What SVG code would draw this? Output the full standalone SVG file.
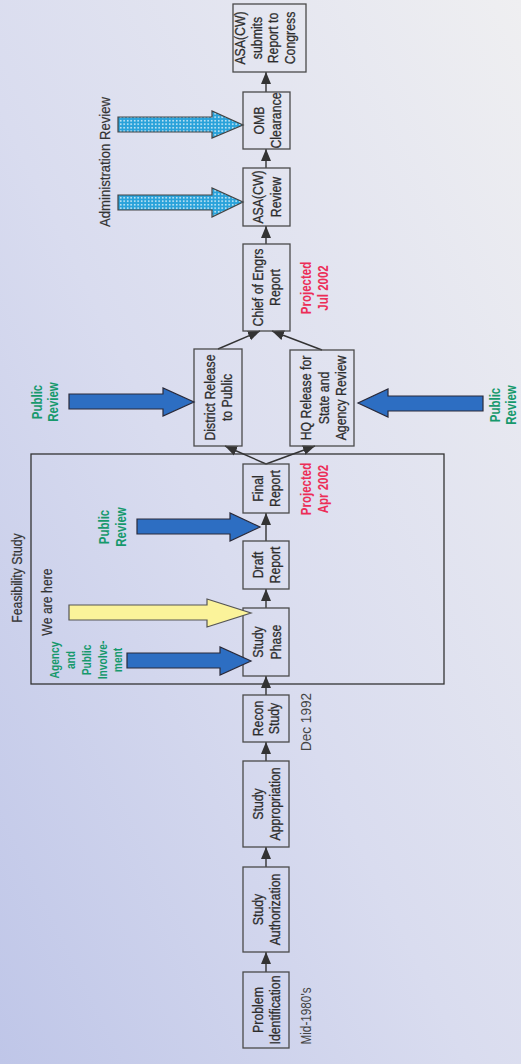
<svg xmlns="http://www.w3.org/2000/svg" width="521" height="1064" viewBox="0 0 521 1064">
<defs>
<linearGradient id="bg" x1="0" y1="1" x2="1" y2="0">
<stop offset="0" stop-color="#bfc6e8"/>
<stop offset="0.45" stop-color="#d9dcef"/>
<stop offset="1" stop-color="#efeff1"/>
</linearGradient>
<pattern id="dots" width="3.5" height="3.5" patternUnits="userSpaceOnUse">
<rect width="3.5" height="3.5" fill="#29a2da"/>
<rect x="1" y="1" width="1.4" height="1.4" fill="#ffffff"/>
</pattern>
<marker id="ah" markerUnits="userSpaceOnUse" markerWidth="12" markerHeight="12" viewBox="0 0 12 12" refX="12" refY="6" orient="auto">
<path d="M0,1 L12,6 L0,11 Z" fill="#333"/>
</marker>
<style>
.box{fill:none;stroke:#4a4a4a;stroke-width:1.3}
.bt{font-family:"Liberation Sans",Arial,sans-serif;font-size:15px;fill:#2d2d2d;stroke:#2d2d2d;stroke-width:0.3;text-anchor:middle}
.gr{font-family:"Liberation Sans",Arial,sans-serif;font-size:14px;font-weight:bold;fill:#16996c;text-anchor:middle}
.rd{font-family:"Liberation Sans",Arial,sans-serif;font-size:14px;font-weight:bold;fill:#ec2d57;text-anchor:middle}
.lb{font-family:"Liberation Sans",Arial,sans-serif;font-size:15px;fill:#333;stroke:#333;stroke-width:0.2;text-anchor:middle}
.dt{font-family:"Liberation Sans",Arial,sans-serif;font-size:14px;fill:#444;text-anchor:middle}
.con{stroke:#333;stroke-width:1.4;fill:none;marker-end:url(#ah)}
.blue{fill:#2d6ec2;stroke:#2a2a3a;stroke-width:1.2}
.yel{fill:#fbf39a;stroke:#555;stroke-width:1.2}
.cyan{fill:url(#dots);stroke:#444;stroke-width:1.2}
</style>
</defs>
<rect width="521" height="1064" fill="url(#bg)"/>

<g id="feasibility-study">
<rect x="31" y="454" width="413" height="230" fill="none" stroke="#333" stroke-width="1.3"/>
<text class="lb" transform="translate(0,578) rotate(-90) scale(0.82,1)"><tspan x="0" y="22.4">Feasibility Study</tspan></text>
</g>

<g id="connectors">
<line class="con" x1="266" y1="972" x2="266" y2="952"/>
<line class="con" x1="266" y1="867" x2="266" y2="847"/>
<line class="con" x1="266" y1="761" x2="266" y2="742"/>
<line class="con" x1="266" y1="695" x2="266" y2="676"/>
<line class="con" x1="266" y1="608" x2="266" y2="589"/>
<line class="con" x1="266" y1="541" x2="266" y2="513"/>
<line class="con" x1="266" y1="464" x2="225" y2="446"/>
<line class="con" x1="266" y1="464" x2="315" y2="446"/>
<line class="con" x1="218" y1="349" x2="260" y2="331"/>
<line class="con" x1="322" y1="350" x2="272" y2="331"/>
<line class="con" x1="266" y1="244" x2="266" y2="226"/>
<line class="con" x1="266" y1="168" x2="266" y2="149"/>
<line class="con" x1="266" y1="92" x2="266" y2="72"/>
</g>

<g id="problem-identification">
<rect class="box" x="243" y="972" width="46" height="76"/>
<text class="bt" transform="translate(0,1010) rotate(-90) scale(0.82,1)"><tspan x="0" y="263.4">Problem</tspan><tspan x="0" y="280.4">Identification</tspan></text>
</g>
<g id="study-authorization">
<rect class="box" x="243" y="867" width="46" height="85"/>
<text class="bt" transform="translate(0,909.5) rotate(-90) scale(0.82,1)"><tspan x="0" y="263.4">Study</tspan><tspan x="0" y="280.4">Authorization</tspan></text>
</g>
<g id="study-appropriation">
<rect class="box" x="243" y="761" width="46" height="86"/>
<text class="bt" transform="translate(0,804) rotate(-90) scale(0.82,1)"><tspan x="0" y="263.4">Study</tspan><tspan x="0" y="280.4">Appropriation</tspan></text>
</g>
<g id="recon-study">
<rect class="box" x="243" y="695" width="46" height="47"/>
<text class="bt" transform="translate(0,718.5) rotate(-90) scale(0.82,1)"><tspan x="0" y="263">Recon</tspan><tspan x="0" y="279.5">Study</tspan></text>
</g>
<g id="study-phase">
<rect class="box" x="243" y="608" width="46" height="68"/>
<text class="bt" transform="translate(0,642) rotate(-90) scale(0.82,1)"><tspan x="0" y="263.4">Study</tspan><tspan x="0" y="281">Phase</tspan></text>
</g>
<g id="draft-report">
<rect class="box" x="243" y="541" width="46" height="48"/>
<text class="bt" transform="translate(0,565) rotate(-90) scale(0.82,1)"><tspan x="0" y="263.4">Draft</tspan><tspan x="0" y="280.4">Report</tspan></text>
</g>
<g id="final-report">
<rect class="box" x="243" y="464" width="46" height="49"/>
<text class="bt" transform="translate(0,488.5) rotate(-90) scale(0.82,1)"><tspan x="0" y="263.4">Final</tspan><tspan x="0" y="280.4">Report</tspan></text>
</g>
<g id="district-release">
<rect class="box" x="194" y="349" width="48" height="97"/>
<text class="bt" transform="translate(0,397.5) rotate(-90) scale(0.82,1)"><tspan x="0" y="214.9">District Release</tspan><tspan x="0" y="232.5">to Public</tspan></text>
</g>
<g id="hq-release">
<rect class="box" x="290" y="350" width="64" height="96"/>
<text class="bt" transform="translate(0,398) rotate(-90) scale(0.82,1)"><tspan x="0" y="311.4">HQ Release for</tspan><tspan x="0" y="328.9">State and</tspan><tspan x="0" y="346.4">Agency Review</tspan></text>
</g>
<g id="chief-of-engrs-report">
<rect class="box" x="243" y="244" width="47" height="87"/>
<text class="bt" transform="translate(0,287.5) rotate(-90) scale(0.82,1)"><tspan x="0" y="263.4">Chief of Engrs</tspan><tspan x="0" y="280.4">Report</tspan></text>
</g>
<g id="asa-review">
<rect class="box" x="243" y="168" width="47" height="58"/>
<text class="bt" transform="translate(0,197) rotate(-90) scale(0.82,1)"><tspan x="0" y="263.4">ASA(CW)</tspan><tspan x="0" y="281.4">Review</tspan></text>
</g>
<g id="omb-clearance">
<rect class="box" x="243" y="92" width="47" height="57"/>
<text class="bt" transform="translate(0,120.5) rotate(-90) scale(0.82,1)"><tspan x="0" y="264.5">OMB</tspan><tspan x="0" y="281.5">Clearance</tspan></text>
</g>
<g id="asa-submits">
<rect class="box" x="233" y="4" width="73" height="68"/>
<text class="bt" transform="translate(0,38) rotate(-90) scale(0.82,1)"><tspan x="0" y="245.4">ASA(CW)</tspan><tspan x="0" y="262">submits</tspan><tspan x="0" y="278.4">Report to</tspan><tspan x="0" y="295">Congress</tspan></text>
</g>

<g id="admin-review">
<text class="lb" transform="translate(0,162) rotate(-90)"><tspan x="0" y="110.4" textLength="130" lengthAdjust="spacingAndGlyphs">Administration  Review</tspan></text>
<polygon class="cyan" points="118,117 212,117 212,111 243,125 212,138 212,132 118,132"/>
<polygon class="cyan" points="118,195 212,195 212,188 243,202 212,217 212,210 118,210"/>
</g>

<g id="public-review-district">
<text class="gr" transform="translate(0,402) rotate(-90) scale(0.82,1)"><tspan x="0" y="42">Public</tspan><tspan x="0" y="58">Review</tspan></text>
<polygon class="blue" points="69,394 163,394 163,388 194,402 163,416 163,409 69,409"/>
</g>
<g id="public-review-hq">
<text class="gr" transform="translate(0,405) rotate(-90) scale(0.82,1)"><tspan x="0" y="500">Public</tspan><tspan x="0" y="516">Review</tspan></text>
<polygon class="blue" points="483,396 388,396 388,389 358,403 388,417 388,411 483,411"/>
</g>
<g id="public-review-draft">
<text class="gr" transform="translate(0,527) rotate(-90) scale(0.82,1)"><tspan x="0" y="109">Public</tspan><tspan x="0" y="126">Review</tspan></text>
<polygon class="blue" points="137,519 230,519 230,513 260,527 230,541 230,534 137,534"/>
</g>
<g id="we-are-here">
<text class="lb" transform="translate(0,602) rotate(-90) scale(0.82,1)"><tspan x="0" y="52.4">We are here</tspan></text>
<polygon class="yel" points="69,605 207,605 207,599 251,613 207,627 207,620 69,620"/>
</g>
<g id="agency-involvement">
<text class="gr" style="font-size:12.5px" transform="translate(0,660) rotate(-90) scale(0.82,1)"><tspan x="0" y="59.5">Agency</tspan><tspan x="0" y="75.2">and</tspan><tspan x="0" y="90.9">Public</tspan><tspan x="0" y="106.6">Involve-</tspan><tspan x="0" y="122.3">ment</tspan></text>
<polygon class="blue" points="127,653 220,653 220,647 251,661 220,675 220,668 127,668"/>
</g>

<g id="dates">
<text class="rd" transform="translate(0,288) rotate(-90) scale(0.82,1)"><tspan x="0" y="311">Projected</tspan><tspan x="0" y="328">Jul 2002</tspan></text>
<text class="rd" transform="translate(0,489) rotate(-90) scale(0.82,1)"><tspan x="0" y="311">Projected</tspan><tspan x="0" y="328">Apr 2002</tspan></text>
<text class="dt" transform="translate(0,722) rotate(-90)"><tspan x="0" y="311" textLength="58" lengthAdjust="spacingAndGlyphs">Dec 1992</tspan></text>
<text class="dt" transform="translate(0,1016) rotate(-90)"><tspan x="0" y="311" textLength="57" lengthAdjust="spacingAndGlyphs">Mid-1980's</tspan></text>
</g>
</svg>
